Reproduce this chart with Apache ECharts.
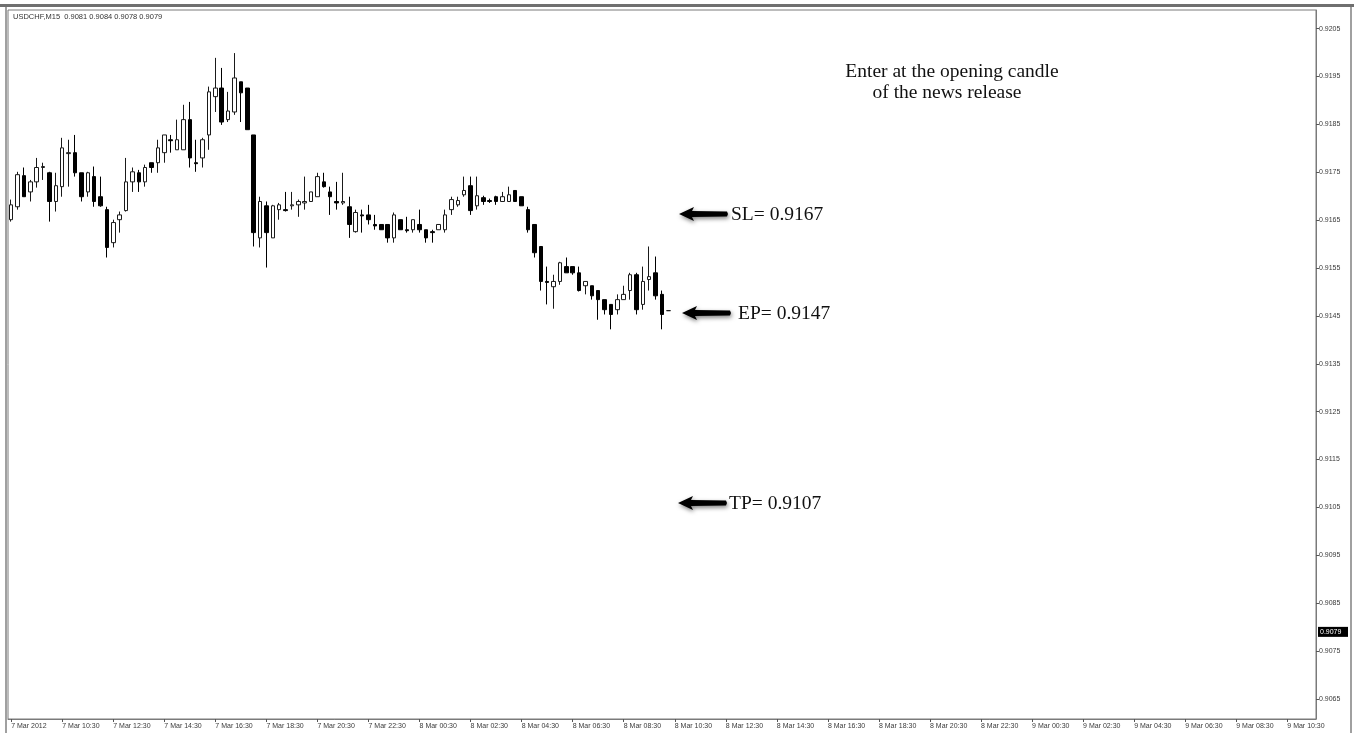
<!DOCTYPE html>
<html>
<head>
<meta charset="utf-8">
<title>USDCHF,M15</title>
<script src="https://cdn.jsdelivr.net/npm/echarts@6/dist/echarts.min.js"></script>
<style>
  html, body { margin: 0; padding: 0; background: #fff; }
  #chart { width: 1354px; height: 733px; }
</style>
</head>
<body>
<div id="chart"></div>
<script>
// USDCHF M15 candles (open / close / low / high)
const opens = [
  0.91651, 0.91678, 0.91743, 0.91709, 0.91730, 0.91760, 0.91749, 0.91689, 0.91720, 0.91789,
  0.91791, 0.91749, 0.91709, 0.91741, 0.91699, 0.91672, 0.91603, 0.91651, 0.91670, 0.91730,
  0.91749, 0.91730, 0.91770, 0.91770, 0.91791, 0.91818, 0.91797, 0.91797, 0.91860, 0.91770,
  0.91780, 0.91828, 0.91908, 0.91926, 0.91860, 0.91876, 0.91939, 0.91926, 0.91828, 0.91613,
  0.91680, 0.91613, 0.91672, 0.91672, 0.91680, 0.91682, 0.91686, 0.91689, 0.91699, 0.91730,
  0.91709, 0.91689, 0.91686, 0.91678, 0.91626, 0.91661, 0.91661, 0.91641, 0.91641, 0.91641,
  0.91613, 0.91651, 0.91630, 0.91630, 0.91641, 0.91630, 0.91626, 0.91630, 0.91630, 0.91672,
  0.91682, 0.91703, 0.91722, 0.91680, 0.91697, 0.91691, 0.91699, 0.91689, 0.91689, 0.91712,
  0.91699, 0.91672, 0.91641, 0.91595, 0.91522, 0.91511, 0.91522, 0.91553, 0.91553, 0.91540,
  0.91513, 0.91513, 0.91503, 0.91484, 0.91474, 0.91463, 0.91484, 0.91503, 0.91536, 0.91474,
  0.91526, 0.91540, 0.91495, 0.91461
];
const closes = [
  0.91682, 0.91745, 0.91699, 0.91730, 0.91760, 0.91762, 0.91689, 0.91722, 0.91801, 0.91791,
  0.91749, 0.91699, 0.91749, 0.91689, 0.91680, 0.91593, 0.91645, 0.91661, 0.91730, 0.91751,
  0.91730, 0.91760, 0.91760, 0.91801, 0.91828, 0.91816, 0.91818, 0.91860, 0.91780, 0.91768,
  0.91818, 0.91918, 0.91926, 0.91855, 0.91878, 0.91947, 0.91916, 0.91839, 0.91624, 0.91689,
  0.91624, 0.91680, 0.91682, 0.91670, 0.91682, 0.91689, 0.91689, 0.91709, 0.91741, 0.91720,
  0.91699, 0.91686, 0.91689, 0.91641, 0.91666, 0.91659, 0.91651, 0.91638, 0.91630, 0.91613,
  0.91661, 0.91630, 0.91628, 0.91651, 0.91630, 0.91613, 0.91624, 0.91641, 0.91661, 0.91693,
  0.91691, 0.91712, 0.91670, 0.91701, 0.91689, 0.91689, 0.91689, 0.91699, 0.91703, 0.91689,
  0.91680, 0.91630, 0.91582, 0.91522, 0.91520, 0.91522, 0.91561, 0.91540, 0.91540, 0.91503,
  0.91522, 0.91492, 0.91484, 0.91463, 0.91453, 0.91484, 0.91495, 0.91536, 0.91463, 0.91522,
  0.91532, 0.91492, 0.91453, 0.91461
];
const lows = [
  0.91647, 0.91672, 0.91699, 0.91689, 0.91718, 0.91734, 0.91647, 0.91668, 0.91699, 0.91720,
  0.91741, 0.91689, 0.91699, 0.91678, 0.91678, 0.91572, 0.91593, 0.91624, 0.91668, 0.91709,
  0.91709, 0.91720, 0.91749, 0.91749, 0.91770, 0.91791, 0.91797, 0.91797, 0.91760, 0.91751,
  0.91760, 0.91797, 0.91876, 0.91849, 0.91855, 0.91870, 0.91855, 0.91839, 0.91595, 0.91593,
  0.91551, 0.91613, 0.91651, 0.91668, 0.91672, 0.91657, 0.91672, 0.91689, 0.91699, 0.91718,
  0.91661, 0.91672, 0.91682, 0.91613, 0.91624, 0.91624, 0.91641, 0.91630, 0.91630, 0.91603,
  0.91603, 0.91630, 0.91624, 0.91624, 0.91624, 0.91603, 0.91603, 0.91630, 0.91624, 0.91661,
  0.91678, 0.91699, 0.91661, 0.91672, 0.91682, 0.91686, 0.91682, 0.91689, 0.91689, 0.91689,
  0.91680, 0.91624, 0.91572, 0.91503, 0.91474, 0.91465, 0.91515, 0.91540, 0.91536, 0.91501,
  0.91495, 0.91484, 0.91442, 0.91453, 0.91422, 0.91453, 0.91484, 0.91484, 0.91453, 0.91463,
  0.91503, 0.91484, 0.91422, 0.91461
];
const highs = [
  0.91693, 0.91751, 0.91760, 0.91734, 0.91780, 0.91770, 0.91751, 0.91749, 0.91822, 0.91818,
  0.91828, 0.91749, 0.91751, 0.91762, 0.91741, 0.91678, 0.91651, 0.91668, 0.91780, 0.91760,
  0.91755, 0.91766, 0.91770, 0.91818, 0.91828, 0.91828, 0.91860, 0.91891, 0.91897, 0.91818,
  0.91822, 0.91929, 0.91989, 0.91968, 0.91918, 0.91999, 0.91939, 0.91926, 0.91828, 0.91699,
  0.91689, 0.91682, 0.91686, 0.91709, 0.91709, 0.91693, 0.91741, 0.91709, 0.91749, 0.91749,
  0.91720, 0.91730, 0.91749, 0.91699, 0.91672, 0.91672, 0.91682, 0.91661, 0.91641, 0.91641,
  0.91666, 0.91651, 0.91657, 0.91651, 0.91672, 0.91630, 0.91630, 0.91641, 0.91672, 0.91699,
  0.91699, 0.91741, 0.91741, 0.91741, 0.91701, 0.91695, 0.91701, 0.91709, 0.91720, 0.91712,
  0.91699, 0.91678, 0.91641, 0.91595, 0.91553, 0.91536, 0.91563, 0.91572, 0.91553, 0.91553,
  0.91522, 0.91513, 0.91503, 0.91484, 0.91474, 0.91495, 0.91513, 0.91540, 0.91540, 0.91553,
  0.91595, 0.91574, 0.91503, 0.91461
];

// price scale labels on the right
const priceTicks = [
  0.9065, 0.9075, 0.9085, 0.9095, 0.9105, 0.9115, 0.9125,
  0.9135, 0.9145, 0.9155, 0.9165, 0.9175, 0.9185, 0.9195, 0.9205
];
const lastPrice = 0.9079;
const headerText = "USDCHF,M15  0.9081 0.9084 0.9078 0.9079";

// time axis: M15 bars from 7 Mar 08:30, incl. the empty future part of the window
const monthName = "Mar";
const firstLabel = "7 Mar 2012";
const barCount = 205;
const categories = [];
for (let i = 0; i < barCount; i++) {
  const mins = 8 * 60 + 30 + i * 15;
  const day = 7 + Math.floor(mins / 1440);
  const hh = Math.floor((mins % 1440) / 60);
  const mm = mins % 60;
  categories.push(day + " " + monthName + " " + String(hh).padStart(2, "0") + ":" + String(mm).padStart(2, "0"));
}

const candles = opens.map((o, i) => [o, closes[i], lows[i], highs[i]]);

const chart = echarts.init(document.getElementById("chart"), null, { renderer: "canvas" });

const axisFont = { fontFamily: "Liberation Sans", fontSize: 7, color: "#3a3a3a" };
const noteFont = "19.5px 'Liberation Serif'";

// flecha negra apuntando a la izquierda + texto
function arrowNote(x, y, text, textX) {
  return {
    type: "group",
    x: x,
    y: y,
    children: [
      {
        type: "polygon",
        shape: {
          points: [[0, 0], [15, -7], [13, -3], [48, -2.6], [49, 0], [48, 2.6], [13, 3], [15, 7]]
        },
        style: { fill: "#000", shadowBlur: 4, shadowColor: "rgba(0,0,0,0.5)", shadowOffsetX: 1, shadowOffsetY: 2 }
      },
      {
        type: "text",
        x: textX,
        y: 1,
        style: { text: text, font: noteFont, fill: "#111", verticalAlign: "middle" }
      }
    ]
  };
}

const graphics = [
  // marco exterior de la ventana
  { type: "rect", shape: { x: 0, y: 4, width: 1354, height: 3 }, style: { fill: "#6f6f6f" } },
  { type: "rect", shape: { x: 5, y: 7, width: 2, height: 726 }, style: { fill: "#a0a0a0" } },
  { type: "rect", shape: { x: 1350, y: 7, width: 2, height: 726 }, style: { fill: "#a0a0a0" } },
  {
    type: "text", x: 13, y: 17,
    style: { text: headerText, font: "7.5px 'Liberation Sans'", fill: "#333", verticalAlign: "middle" }
  },
  {
    type: "text", x: 952, y: 72,
    style: { text: "Enter at the opening candle", font: noteFont, fill: "#111", align: "center", verticalAlign: "middle" }
  },
  {
    type: "text", x: 947, y: 93,
    style: { text: "of the news release", font: noteFont, fill: "#111", align: "center", verticalAlign: "middle" }
  },
  arrowNote(679, 214, "SL= 0.9167", 52),
  arrowNote(682, 313, "EP= 0.9147", 56),
  arrowNote(678, 503, "TP= 0.9107", 51)
];

chart.setOption({
  animation: false,
  backgroundColor: "#fff",
  grid: {
    left: 8, right: 38, top: 10, bottom: 14,
    show: true, borderColor: "#7a7a7a", borderWidth: 1, backgroundColor: "transparent"
  },
  xAxis: {
    type: "category",
    data: categories,
    boundaryGap: true,
    axisLine: { show: true, lineStyle: { color: "#7a7a7a", width: 1 } },
    axisTick: { show: true, interval: 7, alignWithLabel: true, length: 3, lineStyle: { color: "#555" } },
    axisLabel: {
      ...axisFont,
      interval: 7,
      align: "left",
      margin: 4,
      formatter: (v, i) => (i === 0 ? firstLabel : v)
    },
    splitLine: { show: false }
  },
  yAxis: {
    type: "value",
    position: "right",
    scale: true,
    min: 0.90608,
    max: 0.92089,
    axisLine: { show: true, lineStyle: { color: "#7a7a7a", width: 1 } },
    axisTick: { show: true, customValues: priceTicks, length: 3, inside: false, lineStyle: { color: "#555" } },
    axisLabel: {
      ...axisFont,
      customValues: priceTicks,
      margin: 3,
      formatter: (v) => v.toFixed(4)
    },
    splitLine: { show: false }
  },
  series: [
    {
      type: "candlestick",
      data: candles,
      barWidth: 4,
      itemStyle: {
        color: "#ffffff",
        color0: "#000000",
        borderColor: "#1a1a1a",
        borderColor0: "#000000",
        borderWidth: 1
      }
    }
  ],
  graphic: graphics
});

// etiqueta negra del ultimo precio sobre la escala derecha
const tagY = chart.convertToPixel({ yAxisIndex: 0 }, lastPrice);
graphics.push({
  type: "group",
  x: 1318,
  y: tagY,
  children: [
    { type: "rect", shape: { x: 0, y: -5, width: 30, height: 10 }, style: { fill: "#000" } },
    {
      type: "text", x: 2, y: 0,
      style: { text: lastPrice.toFixed(4), font: "7px 'Liberation Sans'", fill: "#fff", verticalAlign: "middle" }
    }
  ]
});
chart.setOption({ graphic: graphics }, { replaceMerge: ["graphic"] });
</script>
</body>
</html>
